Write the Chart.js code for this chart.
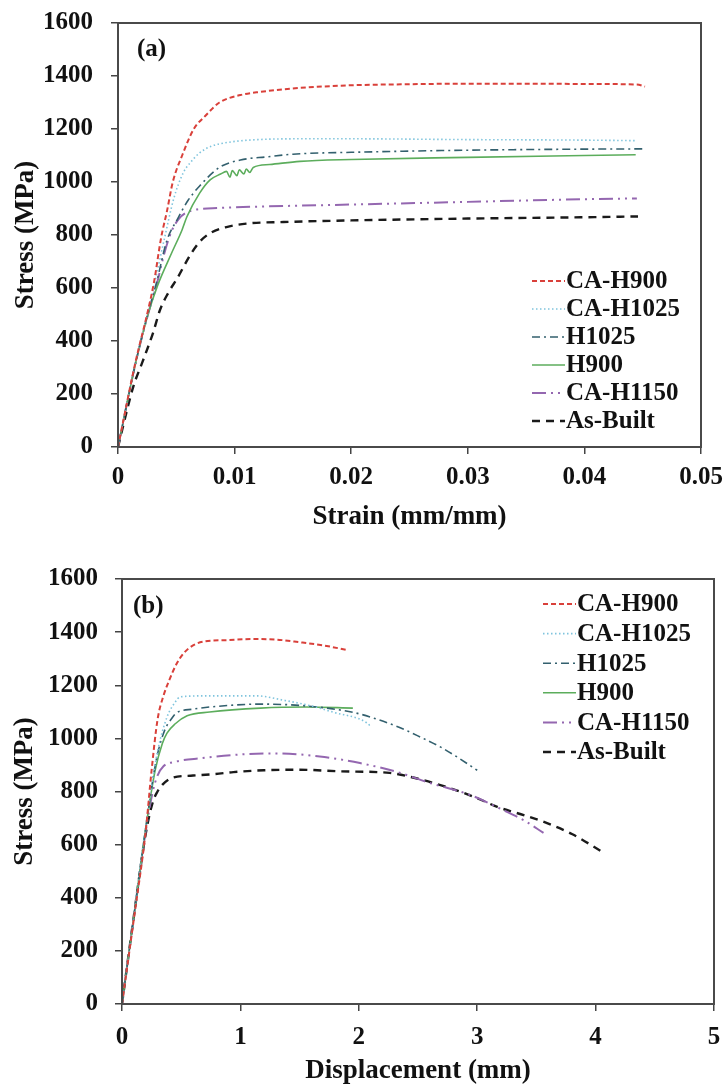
<!DOCTYPE html>
<html><head><meta charset="utf-8">
<script src="https://cdn.jsdelivr.net/npm/chart.js@4.4.1/dist/chart.umd.min.js"></script>
<style>
html,body{margin:0;padding:0;background:#fff;}
#wrap{position:relative;width:726px;height:1088px;overflow:hidden;}
canvas{position:absolute;left:0;}
</style></head><body>
<div id="wrap">
<canvas id="ca" width="726" height="544" style="top:0"></canvas>
<canvas id="cb" width="726" height="544" style="top:544px"></canvas>
</div>
<script>
// ---------- DATA ----------
const seriesNames = ['CA-H900','CA-H1025','H1025','H900','CA-H1150','As-Built'];

// (a) strain (mm/mm) vs stress (MPa)
const a_CAH900 = [[0,0],[0.0015,320],[0.0026,520],[0.0031,625],[0.0037,790],[0.0042,890],[0.0047,1000],[0.0055,1100],[0.0065,1200],[0.0075,1250],[0.0087,1300],[0.0105,1328],[0.0122,1340],[0.0156,1355],[0.020,1365],[0.025,1369],[0.030,1371],[0.035,1371],[0.040,1370],[0.0445,1368],[0.0452,1360]];
const a_CAH1025 = [[0,0],[0.0015,320],[0.0026,515],[0.0032,630],[0.0040,790],[0.0048,940],[0.0056,1035],[0.0063,1078],[0.0070,1110],[0.0080,1135],[0.0095,1150],[0.012,1160],[0.016,1163],[0.020,1163],[0.030,1160],[0.040,1158],[0.0445,1156]];
const a_H1025 = [[0,0],[0.0015,315],[0.0026,510],[0.0033,620],[0.0042,780],[0.0051,860],[0.0060,930],[0.0070,985],[0.0087,1055],[0.0105,1083],[0.0128,1095],[0.015,1105],[0.020,1112],[0.030,1120],[0.040,1124],[0.0452,1125]];
const a_H900 = [[0,0],[0.0015,315],[0.0026,505],[0.0034,610],[0.0046,732],[0.0055,820],[0.0059,868],[0.0070,958],[0.0079,1008],[0.0088,1030],[0.0093,1040],[0.0096,1018],[0.0098,1043],[0.0102,1024],[0.0104,1046],[0.0108,1030],[0.0110,1049],[0.0113,1036],[0.0116,1055],[0.0130,1066],[0.0156,1078],[0.020,1085],[0.030,1093],[0.040,1100],[0.0444,1103]];
const a_CAH1150 = [[0,0],[0.0015,315],[0.0026,505],[0.0033,610],[0.0040,735],[0.0046,815],[0.0052,860],[0.0058,883],[0.0066,895],[0.0087,902],[0.012,907],[0.020,915],[0.030,925],[0.040,935],[0.0445,938]];
const a_AsBuilt = [[0,0],[0.0013,226],[0.0021,321],[0.0030,430],[0.0036,517],[0.0043,581],[0.0051,638],[0.0062,725],[0.0070,774],[0.0079,807],[0.0093,830],[0.011,843],[0.0142,849],[0.020,855],[0.030,862],[0.040,867],[0.0446,870]];

// (b) displacement (mm) vs stress (MPa)
const b_CAH900 = [[0,0],[0.1,320],[0.2,650],[0.25,880],[0.30,1070],[0.35,1160],[0.40,1220],[0.46,1280],[0.52,1320],[0.60,1350],[0.70,1365],[0.90,1370],[1.10,1374],[1.30,1372],[1.50,1362],[1.70,1350],[1.90,1333]];
const b_CAH1025 = [[0,0],[0.1,330],[0.2,670],[0.30,950],[0.38,1080],[0.45,1137],[0.49,1156],[0.70,1160],[1.14,1160],[1.36,1144],[1.60,1122],[1.78,1099],[2.07,1058],[2.10,1045]];
const b_H1025 = [[0,0],[0.1,330],[0.2,660],[0.29,920],[0.36,1030],[0.42,1075],[0.46,1096],[0.60,1110],[0.74,1118],[1.17,1129],[1.56,1122],[1.95,1098],[2.10,1080],[2.35,1040],[2.52,1005],[2.70,965],[2.83,930],[3.00,880]];
const b_H900 = [[0,0],[0.1,330],[0.2,660],[0.28,880],[0.34,980],[0.38,1020],[0.45,1055],[0.55,1085],[0.74,1099],[1.17,1114],[1.56,1118],[1.95,1114]];
const b_CAH1150 = [[0,0],[0.1,330],[0.2,650],[0.26,800],[0.30,860],[0.35,895],[0.45,912],[0.66,925],[1.06,941],[1.33,943],[1.67,932],[2.01,907],[2.32,874],[2.60,832],[2.94,787],[3.22,730],[3.40,690],[3.56,644]];
const b_AsBuilt = [[0,0],[0.1,330],[0.2,640],[0.26,760],[0.30,800],[0.34,825],[0.42,851],[0.60,860],[0.79,866],[0.94,873],[1.20,880],[1.50,882],[1.84,876],[2.26,870],[2.50,848],[2.74,817],[3.00,775],[3.17,742],[3.40,710],[3.59,681],[3.80,640],[4.06,572]];

// tick values and labels
const a_xTicks = [0,0.01,0.02,0.03,0.04,0.05];
const a_xLabels = ['0','0.01','0.02','0.03','0.04','0.05'];
const b_xTicks = [0,1,2,3,4,5];
const b_xLabels = ['0','1','2','3','4','5'];
const yTicks = [0,200,400,600,800,1000,1200,1400,1600];
const yLabels = ['0','200','400','600','800','1000','1200','1400','1600'];

// ---------- STYLES ----------
const styles = [
  {color:'#d9403a', dash:[5,3], width:2},
  {color:'#7fc4dd', dash:[1.5,2.5], width:1.6},
  {color:'#33606e', dash:[8,4,2,4], width:1.6},
  {color:'#5cad5c', dash:[], width:1.6},
  {color:'#9467b0', dash:[14,5,2,5,2,5], width:2},
  {color:'#1a1a1a', dash:[8,6], width:2.4}
];
const FONT = 'Liberation Serif';

function makeDatasets(series){
  return series.map((s,i)=>({
    label: seriesNames[i],
    data: s.map(p=>({x:p[0], y:p[1]})),
    borderColor: styles[i].color,
    borderDash: styles[i].dash,
    borderWidth: styles[i].width,
    pointRadius: 0,
    fill: false,
    cubicInterpolationMode: 'monotone'
  }));
}

const framePlugin = {
  id:'frame',
  afterDraw(chart, args, o){
    const {ctx, chartArea:{left,top,right,bottom}} = chart;
    ctx.save();
    ctx.strokeStyle = '#4a4a4a'; ctx.lineWidth = 2; ctx.setLineDash([]);
    ctx.strokeRect(left, top, right-left, bottom-top);
    ctx.fillStyle = '#111';
    ctx.font = 'bold 25px "' + FONT + '"';
    ctx.textBaseline = 'middle'; ctx.textAlign = 'left';
    ctx.fillText(o.panel, o.panelX, o.panelY);
    chart.data.datasets.forEach((ds,i)=>{
      const y = o.legY + i*o.legStep;
      ctx.beginPath();
      ctx.setLineDash(ds.borderDash||[]);
      ctx.strokeStyle = ds.borderColor; ctx.lineWidth = ds.borderWidth;
      ctx.moveTo(o.legX, y); ctx.lineTo(o.legX + o.legLine, y); ctx.stroke();
      ctx.setLineDash([]);
      ctx.fillStyle = '#111';
      ctx.fillText(ds.label, o.legX + o.legLine + 1, y + 1);
    });
    ctx.restore();
  }
};

function makeChart(id, series, c){
  const tickFont = {family:FONT, weight:'bold', size:25};
  const titleFont = {family:FONT, weight:'bold', size:27};
  const grid = {display:true, drawOnChartArea:false, drawTicks:true, tickLength:7, color:'#444', lineWidth:1.5};
  return new Chart(document.getElementById(id), {
    type:'line',
    data:{datasets: makeDatasets(series)},
    plugins:[framePlugin],
    options:{
      responsive:false, animation:false, devicePixelRatio:1,
      layout:{padding:c.pad},
      plugins:{legend:{display:false}, tooltip:{enabled:false}, frame:c.frame},
      scales:{
        x:{type:'linear', min:0, max:c.xMax,
          afterBuildTicks(s){ s.ticks = c.xTicks.map(v=>({value:v})); },
          afterFit(s){ s.height = c.xH; s.paddingLeft = 0; s.paddingRight = 0; },
          ticks:{callback:(v,i)=>c.xLabels[i], font:tickFont, color:'#111', padding:c.xPad, maxRotation:0, autoSkip:false},
          grid, border:{display:true, color:'#444', width:2},
          title:{display:true, text:c.xTitle, font:titleFont, color:'#111', padding:{top:0, bottom:c.xTitlePad}}
        },
        y:{type:'linear', min:0, max:1600,
          afterBuildTicks(s){ s.ticks = yTicks.map(v=>({value:v})); },
          afterFit(s){ s.width = c.yW; s.paddingTop = 0; s.paddingBottom = 0; },
          ticks:{callback:(v,i)=>yLabels[i], font:tickFont, color:'#111', padding:c.yPad, autoSkip:false},
          grid, border:{display:true, color:'#444', width:2},
          title:{display:true, text:'Stress (MPa)', font:titleFont, color:'#111', padding:{top:c.yTitlePad, bottom:0}}
        }
      }
    }
  });
}

makeChart('ca', [a_CAH900,a_CAH1025,a_H1025,a_H900,a_CAH1150,a_AsBuilt], {
  pad:{left:0, right:25, top:23, bottom:0}, xMax:0.05, xTicks:a_xTicks, xLabels:a_xLabels,
  xH:97, xPad:9, xTitle:'Strain (mm/mm)', xTitlePad:11, yW:118, yPad:18, yTitlePad:10,
  frame:{panel:'(a)', panelX:137, panelY:50, legX:532, legY:281, legStep:28, legLine:33}
});
makeChart('cb', [b_CAH900,b_CAH1025,b_H1025,b_H900,b_CAH1150,b_AsBuilt], {
  pad:{left:0, right:12, top:35, bottom:0}, xMax:5, xTicks:b_xTicks, xLabels:b_xLabels,
  xH:84, xPad:12, xTitle:'Displacement (mm)', xTitlePad:1, yW:122, yPad:17, yTitlePad:9,
  frame:{panel:'(b)', panelX:133, panelY:63, legX:543, legY:60, legStep:29.6, legLine:33}
});
</script>
</body></html>
